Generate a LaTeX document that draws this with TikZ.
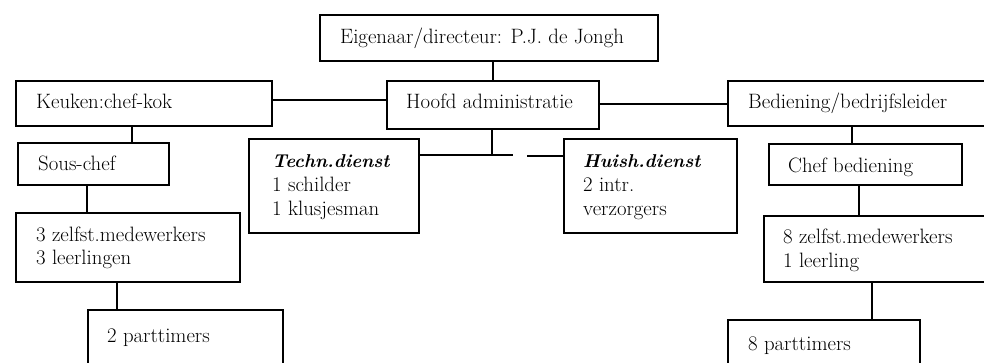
\documentclass[tikz,border=0pt]{standalone}
\usetikzlibrary{calc}
\tikzset{
  x=1pt, y=-1pt,
  orgbox/.style={draw, line width=1.5pt, rectangle, inner sep=0pt, anchor=north west},
  lbl/.style={anchor=base west, inner sep=0pt, font=\fontsize{20.8}{24}\selectfont},
  hdr/.style={lbl, font=\fontsize{18.6}{24}\selectfont\bfseries\itshape},
  conn/.style={line width=1.5pt}
}
\newcommand{\orgrect}[5]{\node[orgbox, minimum width=#4pt-#2pt, minimum height=#5pt-#3pt] (#1) at (#2,#3) {};}
\begin{document}
\begin{tikzpicture}
\useasboundingbox (0,0) rectangle (984,362);
\begin{scope}
\clip (0,0) rectangle (984,362);
% boxes
\orgrect{E}{319}{14}{657}{60}
\orgrect{K}{15}{80}{271}{125}
\orgrect{H}{386}{80}{598}{128}
\orgrect{B}{727}{80}{990}{125}
\orgrect{T}{248}{138}{418}{232}
\orgrect{Hu}{563}{138}{736}{232}
\orgrect{S}{17}{142}{168}{184}
\orgrect{C}{768}{143}{961}{184}
\orgrect{Z}{15}{212}{239}{281}
\orgrect{Z2}{763}{215}{990}{281}
\orgrect{P}{87}{309}{282}{370}
\orgrect{P2}{727}{319}{919}{370}
% texts
\node[lbl] (tE) at (340,43) {Eigenaar/directeur: P.J. de Jongh};
\node[lbl] (tK) at (36,108) {Keuken:chef-kok};
\node[lbl] (tH) at (406,108) {Hoofd administratie};
\node[lbl] (tB) at (748,108) {Bediening/bedrijfsleider};
\node[lbl] (tS) at (38,170) {Sous-chef};
\node[hdr] (tT1) at (272,167) {Techn.dienst};
\node[lbl] (tT2) at (272,191) {1 schilder};
\node[lbl] (tT3) at (272,215) {1 klusjesman};
\node[hdr] (tU1) at (583,167) {Huish.dienst};
\node[lbl] (tU2) at (583,191) {2 intr.};
\node[lbl] (tU3) at (583,215) {verzorgers};
\node[lbl] (tC) at (788,172) {Chef bediening};
\node[lbl] (tZ1) at (36,241) {3 zelfst.medewerkers};
\node[lbl] (tZ2) at (36,264) {3 leerlingen};
\node[lbl] (tZ3) at (783,243) {8 zelfst.medewerkers};
\node[lbl] (tZ4) at (783,267) {1 leerling};
\node[lbl] (tP) at (107,342) {2 parttimers};
\node[lbl] (tP2) at (748,350) {8 parttimers};
% connectors
\coordinate (j) at (492,155);
\draw[conn] (E.south -| H.north) -- (H.north);
\draw[conn] (K.east |- 0,100) -- (H.west |- 0,100);
\draw[conn] (H.east |- 0,104) -- (B.west |- 0,104);
\draw[conn] (H.south -| j) -- (j);
\draw[conn] (T.east |- j) -- (513,155);
\draw[conn] (Hu.west |- 0,156) -- (527,156);
\draw[conn] (K.south -| 132,0) -- (S.north -| 132,0);
\draw[conn] (S.south -| 87,0) -- (Z.north -| 87,0);
\draw[conn] (Z.south -| 117,0) -- (P.north -| 117,0);
\draw[conn] (B.south -| 852,0) -- (C.north -| 852,0);
\draw[conn] (C.south -| 859,0) -- (Z2.north -| 859,0);
\draw[conn] (Z2.south -| 872,0) -- (P2.north -| 872,0);
\end{scope}
\end{tikzpicture}
\end{document}
